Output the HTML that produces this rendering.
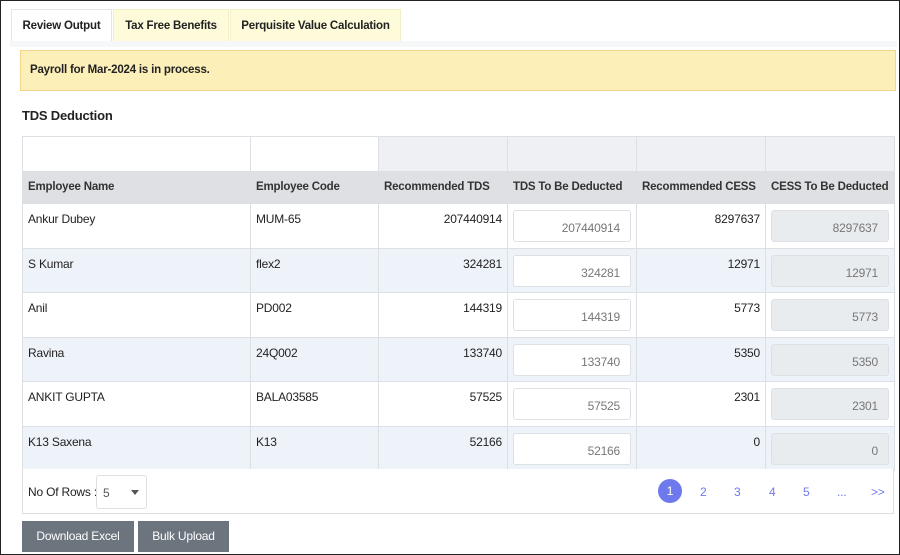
<!DOCTYPE html>
<html><head><meta charset="utf-8"><style>
*{box-sizing:border-box}
body{margin:0;width:900px;height:555px;background:#fff;font-family:"Liberation Sans",sans-serif;font-size:12px;color:#222;position:relative;overflow:hidden;border:1px solid #222;letter-spacing:-0.2px}
.abs{position:absolute}
.tab{position:absolute;top:8px;height:32px;line-height:32px;font-weight:bold;text-align:center;background:#fdfbd9;border:1px solid #f1efc8;border-bottom:none;font-size:11.5px}
.strip{position:absolute;left:9px;top:40px;width:887px;height:6px;background:#f6f7f9}
table{position:absolute;left:21px;top:135px;border-collapse:collapse;width:872px;table-layout:fixed}
td,th{border:1px solid #dcdfe4;padding:0 5px;vertical-align:top;white-space:nowrap;overflow:hidden}
th{text-align:left;font-weight:bold;height:31px;line-height:31px;background:#dee0e3;color:#333;font-size:11.5px}
tr.top td{height:35px;background:#eef0f4}
tr.top td.w{background:#fff}
tr.r td{height:44.5px;padding-top:8px}
tr.r:nth-child(even) td{background:#eef2f9}
.n{text-align:right}
.inp{height:32px;margin-top:-2px;border:1px solid #dde1e6;border-radius:3px;background:#fff;text-align:right;padding:10px 10px 0 0;color:#777}
.inp.g{background:#e9ecef}
.btn{position:absolute;top:520px;height:31px;line-height:31px;background:#6c757d;color:#fff;text-align:center;font-size:12px}
</style></head><body>
<div class="tab" style="left:10px;width:101px;background:#fff;border-color:#e5e5e5">Review Output</div>
<div class="tab" style="left:112px;width:116px">Tax Free Benefits</div>
<div class="tab" style="left:229px;width:171px">Perquisite Value Calculation</div>
<div class="strip"></div>
<div class="abs" style="left:19px;top:49px;width:876px;height:41px;background:#fdefb8;border:1px solid #f2d68a;font-weight:bold;line-height:39px;padding-left:9px;font-size:11.5px">Payroll for Mar-2024 is in process.</div>
<div class="abs" style="left:21px;top:107px;font-size:13px;font-weight:bold">TDS Deduction</div>
<table>
<colgroup><col style="width:228px"><col style="width:128px"><col style="width:129px"><col style="width:129px"><col style="width:129px"><col style="width:129px"></colgroup>
<thead>
<tr class="top"><td class="w"></td><td class="w"></td><td></td><td></td><td></td><td></td></tr>
<tr><th>Employee Name</th><th>Employee Code</th><th>Recommended TDS</th><th>TDS To Be Deducted</th><th>Recommended CESS</th><th>CESS To Be Deducted</th></tr>
</thead>
<tbody id="rows"></tbody>
</table>
<div class="abs" style="left:21px;top:468px;width:872px;height:45px;border:1px solid #dcdfe4;border-top:none;background:#fff"></div>
<div class="abs" style="left:27px;top:484px">No Of Rows :</div>
<div class="abs" style="left:95px;top:474px;width:51px;height:34px;border:1px solid #dde1e6;border-radius:3px;padding:10px 0 0 6px;color:#555;background:#fff">5<span style="position:absolute;right:7px;top:14px;border:4px solid transparent;border-top:5px solid #555"></span></div>
<div class="abs" style="left:657px;top:478px;width:24px;height:24px;border-radius:12px;background:#6f79ee;color:#fff;text-align:center;line-height:24px">1</div>
<div class="abs" style="left:699px;top:484px;color:#6f79ee">
<span style="position:absolute;left:0">2</span><span style="position:absolute;left:34px">3</span><span style="position:absolute;left:69px">4</span><span style="position:absolute;left:103px">5</span><span style="position:absolute;left:137px">...</span><span style="position:absolute;left:171px">&gt;&gt;</span></div>
<div class="btn" style="left:21px;width:112px">Download Excel</div>
<div class="btn" style="left:137px;width:91px">Bulk Upload</div>
<script>
const names=["Ankur Dubey","S Kumar","Anil","Ravina","ANKIT GUPTA","K13 Saxena"];
const codes=["MUM-65","flex2","PD002","24Q002","BALA03585","K13"];
const tds=[207440914,324281,144319,133740,57525,52166];
const cess=[8297637,12971,5773,5350,2301,0];
const tb=document.getElementById('rows');
names.forEach((n,i)=>{
 const tr=document.createElement('tr');tr.className='r';
 
 
 tr.innerHTML='<td>'+n+'</td><td>'+codes[i]+'</td><td class="n">'+tds[i]+'</td><td><div class="inp">'+tds[i]+'</div></td><td class="n">'+cess[i]+'</td><td><div class="inp g">'+cess[i]+'</div></td>';
 tb.appendChild(tr);
});
</script>
</body></html>
